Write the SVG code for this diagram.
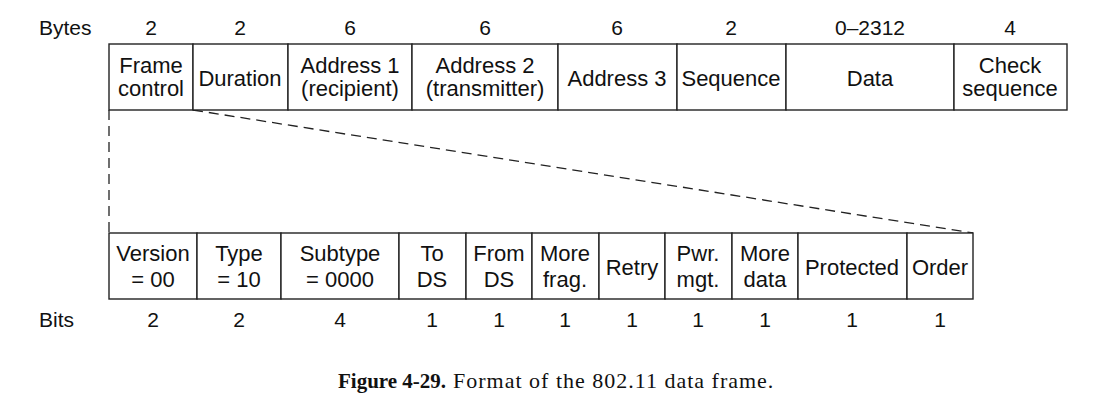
<svg xmlns="http://www.w3.org/2000/svg" width="1104" height="407" viewBox="0 0 1104 407">
<style>
.t{font-family:"Liberation Sans",Arial,sans-serif;font-size:22px;fill:#111;text-anchor:middle}
.n{font-family:"Liberation Sans",Arial,sans-serif;font-size:21px;fill:#111;text-anchor:middle}
.lb{font-family:"Liberation Sans",Arial,sans-serif;font-size:21px;fill:#111;text-anchor:start}
.box{fill:#fff;stroke:#222;stroke-width:1.4}
.dash{fill:none;stroke:#222;stroke-width:1.3;stroke-dasharray:10 6}
.cap{font-family:"Liberation Serif","Times New Roman",serif;font-size:22px;fill:#111}
</style>
<rect width="1104" height="407" fill="#fff"/>
<text class="lb" x="39" y="35">Bytes</text>
<text class="lb" x="39" y="327">Bits</text>
<g id="connectors">
<line class="dash" x1="109" y1="110" x2="109" y2="233"/>
<line class="dash" x1="193" y1="110" x2="973" y2="233"/>
</g>
<g id="byte-sizes">
<text class="n" x="151" y="35">2</text>
<text class="n" x="240" y="35">2</text>
<text class="n" x="350" y="35">6</text>
<text class="n" x="485" y="35">6</text>
<text class="n" x="617" y="35">6</text>
<text class="n" x="731" y="35">2</text>
<text class="n" x="870" y="35">0–2312</text>
<text class="n" x="1010" y="35">4</text>
</g>
<g id="frame-control"><rect class="box" x="109" y="44" width="84" height="66"/><text class="t" x="151" y="73">Frame</text><text class="t" x="151" y="96">control</text></g>
<g id="duration"><rect class="box" x="193" y="44" width="95" height="66"/><text class="t" x="240" y="86">Duration</text></g>
<g id="address1"><rect class="box" x="288" y="44" width="124" height="66"/><text class="t" x="350" y="73">Address 1</text><text class="t" x="350" y="96">(recipient)</text></g>
<g id="address2"><rect class="box" x="412" y="44" width="146" height="66"/><text class="t" x="485" y="73">Address 2</text><text class="t" x="485" y="96">(transmitter)</text></g>
<g id="address3"><rect class="box" x="558" y="44" width="119" height="66"/><text class="t" x="617" y="86">Address 3</text></g>
<g id="sequence"><rect class="box" x="677" y="44" width="109" height="66"/><text class="t" x="731" y="86">Sequence</text></g>
<g id="data"><rect class="box" x="786" y="44" width="168" height="66"/><text class="t" x="870" y="86">Data</text></g>
<g id="check-sequence"><rect class="box" x="954" y="44" width="113" height="66"/><text class="t" x="1010" y="73">Check</text><text class="t" x="1010" y="96">sequence</text></g>

<g id="version"><rect class="box" x="109" y="233" width="88" height="66"/><text class="t" x="153" y="261">Version</text><text class="t" x="153" y="287">= 00</text></g>
<g id="type"><rect class="box" x="197" y="233" width="84" height="66"/><text class="t" x="239" y="261">Type</text><text class="t" x="239" y="287">= 10</text></g>
<g id="subtype"><rect class="box" x="281" y="233" width="118" height="66"/><text class="t" x="340" y="261">Subtype</text><text class="t" x="340" y="287">= 0000</text></g>
<g id="to-ds"><rect class="box" x="399" y="233" width="67" height="66"/><text class="t" x="432" y="261">To</text><text class="t" x="432" y="287">DS</text></g>
<g id="from-ds"><rect class="box" x="466" y="233" width="66" height="66"/><text class="t" x="499" y="261">From</text><text class="t" x="499" y="287">DS</text></g>
<g id="more-frag"><rect class="box" x="532" y="233" width="67" height="66"/><text class="t" x="565" y="261">More</text><text class="t" x="565" y="287">frag.</text></g>
<g id="retry"><rect class="box" x="599" y="233" width="66" height="66"/><text class="t" x="632" y="275">Retry</text></g>
<g id="pwr-mgt"><rect class="box" x="665" y="233" width="67" height="66"/><text class="t" x="698" y="261">Pwr.</text><text class="t" x="698" y="287">mgt.</text></g>
<g id="more-data"><rect class="box" x="732" y="233" width="66" height="66"/><text class="t" x="765" y="261">More</text><text class="t" x="765" y="287">data</text></g>
<g id="protected"><rect class="box" x="798" y="233" width="109" height="66"/><text class="t" x="852" y="275">Protected</text></g>
<g id="order"><rect class="box" x="907" y="233" width="66" height="66"/><text class="t" x="940" y="275">Order</text></g>

<g id="bit-sizes">
<text class="n" x="153" y="327">2</text>
<text class="n" x="239" y="327">2</text>
<text class="n" x="340" y="327">4</text>
<text class="n" x="432" y="327">1</text>
<text class="n" x="499" y="327">1</text>
<text class="n" x="565" y="327">1</text>
<text class="n" x="632" y="327">1</text>
<text class="n" x="698" y="327">1</text>
<text class="n" x="765" y="327">1</text>
<text class="n" x="852" y="327">1</text>
<text class="n" x="940" y="327">1</text>
</g>
<text class="cap" y="388"><tspan x="338" font-weight="bold" font-size="21">Figure 4-29.</tspan><tspan x="453" letter-spacing="1">Format of the 802.11 data frame.</tspan></text>
</svg>
